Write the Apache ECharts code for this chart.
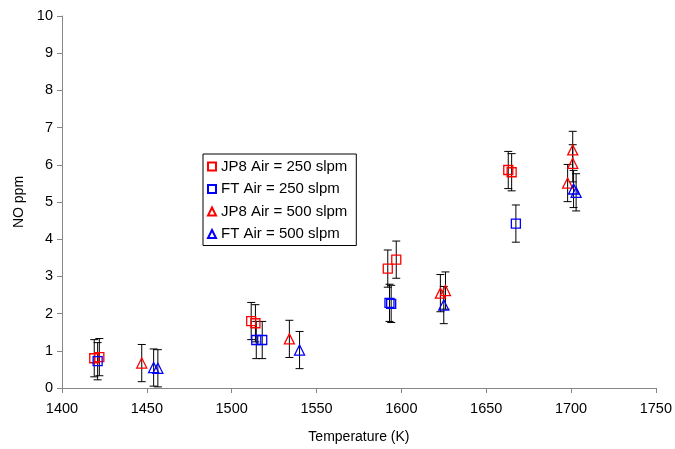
<!DOCTYPE html>
<html>
<head>
<meta charset="utf-8">
<script src="https://cdn.jsdelivr.net/npm/echarts@6/dist/echarts.min.js"></script>
<style>
html,body{margin:0;padding:0;background:#fff;}
#chart{width:675px;height:449px;}
</style>
</head>
<body>
<div id="chart"></div>
<script>
// ---- data ----
var xTicks = [1400, 1450, 1500, 1550, 1600, 1650, 1700, 1750];
var yTicks = [0, 1, 2, 3, 4, 5, 6, 7, 8, 9, 10];

var jp8_250_T = [1419, 1422, 1511.5, 1514, 1592, 1597, 1663, 1665];
var jp8_250_NO = [0.80, 0.83, 1.80, 1.74, 3.21, 3.45, 5.86, 5.80];
var jp8_250_err = [0.5, 0.5, 0.5, 0.5, 0.5, 0.5, 0.5, 0.5];

var ft_250_T = [1421, 1514.5, 1518, 1593, 1594, 1667.5];
var ft_250_NO = [0.72, 1.29, 1.29, 2.29, 2.26, 4.42];
var ft_250_err = [0.5, 0.5, 0.5, 0.5, 0.5, 0.5];

var jp8_500_T = [1447, 1534, 1623, 1626, 1698, 1701, 1701];
var jp8_500_NO = [0.67, 1.32, 2.55, 2.62, 5.51, 6.04, 6.40];
var jp8_500_err = [0.5, 0.5, 0.5, 0.5, 0.5, 0.5, 0.5];

var ft_500_T = [1454, 1456.5, 1540, 1625, 1701.5, 1703];
var ft_500_NO = [0.55, 0.53, 1.02, 2.23, 5.35, 5.26];
var ft_500_err = [0.5, 0.5, 0.5, 0.5, 0.5, 0.5];

var seriesNames = ['JP8 Air = 250 slpm', 'FT Air = 250 slpm', 'JP8 Air = 500 slpm', 'FT Air = 500 slpm'];

// ---- build ----
function pts(xs, ys) { return xs.map(function (x, i) { return [x, ys[i]]; }); }
function errPts(xs, ys, es) { return xs.map(function (x, i) { return [x, ys[i], es[i]]; }); }

var FONT = 'Liberation Sans, Arial, sans-serif';

function errorSeries(xs, ys, es) {
  return {
    type: 'custom',
    silent: true,
    z: 1,
    clip: true,
    data: errPts(xs, ys, es),
    renderItem: function (params, api) {
      var x = api.value(0), y = api.value(1), e = api.value(2);
      var top = api.coord([x, y + e]);
      var bot = api.coord([x, y - e]);
      var cw = 4;
      var st = { stroke: '#000', lineWidth: 1 };
      return {
        type: 'group',
        children: [
          { type: 'line', shape: { x1: top[0], y1: top[1], x2: bot[0], y2: bot[1] }, style: st },
          { type: 'line', shape: { x1: top[0] - cw, y1: top[1], x2: top[0] + cw, y2: top[1] }, style: st },
          { type: 'line', shape: { x1: bot[0] - cw, y1: bot[1], x2: bot[0] + cw, y2: bot[1] }, style: st }
        ]
      };
    }
  };
}

function scatterSeries(name, xs, ys, symbol, color, size) {
  return {
    name: name,
    type: 'scatter',
    z: 3,
    symbol: symbol,
    symbolSize: size,
    data: pts(xs, ys),
    itemStyle: { color: 'rgba(255,255,255,0)', borderColor: color, borderWidth: 1.3, opacity: 1 },
    emphasis: { disabled: true }
  };
}

var chart = echarts.init(document.getElementById('chart'), null, { renderer: 'canvas' });
chart.setOption({
  animation: false,
  backgroundColor: '#fff',
  grid: { left: 62, right: 13, top: 16, bottom: 60, containLabel: false },
  legend: {
    show: true,
    orient: 'vertical',
    left: 203,
    top: 154,
    data: seriesNames,
    backgroundColor: '#fff',
    borderColor: '#000',
    borderWidth: 1,
    padding: [5, 9, 4, 4],
    itemWidth: 8,
    itemHeight: 8,
    itemGap: 7.5,
    textStyle: { fontFamily: FONT, fontSize: 15, color: '#000' },
    selectedMode: false
  },
  xAxis: {
    type: 'value',
    min: 1400, max: 1750, interval: 50,
    name: 'Temperature (K)',
    nameLocation: 'middle',
    nameGap: 42,
    nameTextStyle: { fontFamily: FONT, fontSize: 14, color: '#000' },
    axisLine: { show: true, lineStyle: { color: '#868686', width: 1 } },
    axisTick: { show: true, inside: false, length: 5, lineStyle: { color: '#868686' } },
    axisLabel: { fontFamily: FONT, fontSize: 14.5, color: '#000', margin: 13,
      formatter: function (v) { return xTicks.indexOf(v) >= 0 ? String(v) : ''; } },
    splitLine: { show: false }
  },
  yAxis: {
    type: 'value',
    min: 0, max: 10, interval: 1,
    name: 'NO ppm',
    nameLocation: 'middle',
    nameGap: 31,
    nameTextStyle: { fontFamily: FONT, fontSize: 14, color: '#000' },
    axisLine: { show: true, lineStyle: { color: '#868686', width: 1 } },
    axisTick: { show: true, inside: false, length: 5, lineStyle: { color: '#868686' } },
    axisLabel: { fontFamily: FONT, fontSize: 14.5, color: '#000', margin: 9,
      formatter: function (v) { return yTicks.indexOf(v) >= 0 ? String(v) : ''; } },
    splitLine: { show: false }
  },
  series: [
    errorSeries(jp8_250_T, jp8_250_NO, jp8_250_err),
    errorSeries(ft_250_T, ft_250_NO, ft_250_err),
    errorSeries(jp8_500_T, jp8_500_NO, jp8_500_err),
    errorSeries(ft_500_T, ft_500_NO, ft_500_err),
    scatterSeries(seriesNames[0], jp8_250_T, jp8_250_NO, 'rect', '#ff0000', 9),
    scatterSeries(seriesNames[1], ft_250_T, ft_250_NO, 'rect', '#0000ff', 9),
    scatterSeries(seriesNames[2], jp8_500_T, jp8_500_NO, 'triangle', '#ff0000', 10),
    scatterSeries(seriesNames[3], ft_500_T, ft_500_NO, 'triangle', '#0000ff', 10)
  ]
});
</script>
</body>
</html>
